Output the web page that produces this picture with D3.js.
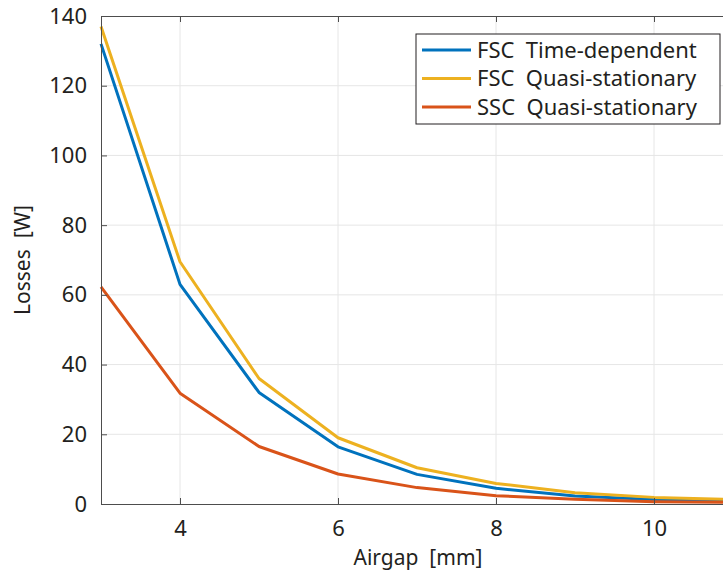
<!DOCTYPE html>
<html>
<head>
<meta charset="utf-8">
<script src="https://cdn.jsdelivr.net/npm/d3@7"></script>
<style>
  body { margin: 0; background: #fff; }
  svg { display: block; font-family: "Noto Sans", "Open Sans", sans-serif; }
  svg text { white-space: pre; }
</style>
</head>
<body>
<div id="chart"></div>
<script>
// airgap values (mm)
const airgap = [3, 4, 5, 6, 7, 8, 9, 10, 11];
// losses (W)
const fscTimeDependent = [132, 63, 32, 16.4, 8.5, 4.5, 2.3, 1.3, 0.9];
const fscQuasiStationary = [137, 69.5, 36, 19, 10.4, 5.9, 3.2, 1.9, 1.3];
const sscQuasiStationary = [62.3, 31.8, 16.5, 8.6, 4.7, 2.4, 1.35, 0.65, 0.45];

const seriesNames = ["FSC  Time-dependent", "FSC  Quasi-stationary", "SSC  Quasi-stationary"];
const xTicks = [4, 6, 8, 10];
const yTicks = [0, 20, 40, 60, 80, 100, 120, 140];

const width = 723, height = 583;
const margin = {top: 16, left: 101, bottom: 79};
const colors = ["#0072BD", "#EDB120", "#D95319"];
const axisColor = "#4d4d4d";
const textColor = "#231f20";

const svg = d3.select("#chart").append("svg")
  .attr("width", width)
  .attr("height", height);

const x = d3.scaleLinear().domain([3, 11]).range([margin.left, margin.left + 8 * 79]);
const y = d3.scaleLinear().domain([0, 140]).range([height - margin.bottom, margin.top]);

const series = [fscTimeDependent, fscQuasiStationary, sscQuasiStationary].map((vals, i) => ({
  name: seriesNames[i],
  color: colors[i],
  points: airgap.map((a, j) => [a, vals[j]])
}));

// grid
const grid = svg.append("g").attr("class", "grid");
grid.selectAll("line.gx")
  .data(xTicks)
  .join("line")
  .attr("class", "gx")
  .attr("x1", d => x(d)).attr("x2", d => x(d))
  .attr("y1", y(0)).attr("y2", y(140))
  .attr("stroke", "#e6e6e6")
  .attr("stroke-width", 1);
grid.selectAll("line.gy")
  .data(yTicks.slice(1, -1))
  .join("line")
  .attr("class", "gy")
  .attr("x1", x(3)).attr("x2", x(11))
  .attr("y1", d => y(d)).attr("y2", d => y(d))
  .attr("stroke", "#e6e6e6")
  .attr("stroke-width", 1);

// lines
const line = d3.line().x(d => x(d[0])).y(d => y(d[1]));
svg.append("g")
  .selectAll("path")
  .data(series)
  .join("path")
  .attr("d", d => line(d.points))
  .attr("fill", "none")
  .attr("stroke", d => d.color)
  .attr("stroke-width", 3)
  .attr("stroke-linejoin", "round");

// axes (ticks inward, box on top)
const xAxis = d3.axisBottom(x).tickValues(xTicks).tickSizeInner(-6).tickSizeOuter(0).tickPadding(16);
const yAxis = d3.axisLeft(y).tickValues(yTicks).tickSizeInner(-6).tickSizeOuter(0).tickPadding(14);
const xTop = d3.axisTop(x).tickValues(xTicks).tickSizeInner(-6).tickSizeOuter(0).tickFormat("");

function styleAxis(g) {
  g.select(".domain").attr("stroke", axisColor).attr("stroke-width", 1);
  g.selectAll(".tick line").attr("stroke", axisColor);
  g.selectAll(".tick text")
    .attr("fill", textColor)
    .style("font-size", "22px")
    .style("font-family", '"Noto Sans", sans-serif');
}

svg.append("g")
  .attr("transform", `translate(0,${y(0)})`)
  .call(xAxis)
  .call(styleAxis);
svg.append("g")
  .attr("transform", `translate(${x(3)},0)`)
  .call(yAxis)
  .call(styleAxis);
svg.append("g")
  .attr("transform", `translate(0,${y(140)})`)
  .call(xTop)
  .call(styleAxis);

// axis labels
svg.append("text")
  .attr("x", 418)
  .attr("y", 565)
  .attr("text-anchor", "middle")
  .attr("fill", textColor)
  .style("font-size", "21px")
  .text("Airgap  [mm]");
svg.append("text")
  .attr("transform", "translate(30,260) rotate(-90)")
  .attr("text-anchor", "middle")
  .attr("fill", textColor)
  .style("font-size", "21px")
  .text("Losses  [W]");

// legend
const legend = svg.append("g").attr("transform", "translate(416,34)");
legend.append("rect")
  .attr("width", 304)
  .attr("height", 90)
  .attr("fill", "#fff")
  .attr("stroke", textColor)
  .attr("stroke-width", 1);
const rows = legend.selectAll("g")
  .data(series)
  .join("g")
  .attr("transform", (d, i) => `translate(0,${16 + i * 28.5})`);
rows.append("line")
  .attr("x1", 6).attr("x2", 55)
  .attr("stroke", d => d.color)
  .attr("stroke-width", 3);
rows.append("text")
  .attr("x", 61)
  .attr("dy", "0.35em")
  .attr("fill", textColor)
  .style("font-size", "22px")
  .text(d => d.name);
</script>
</body>
</html>
